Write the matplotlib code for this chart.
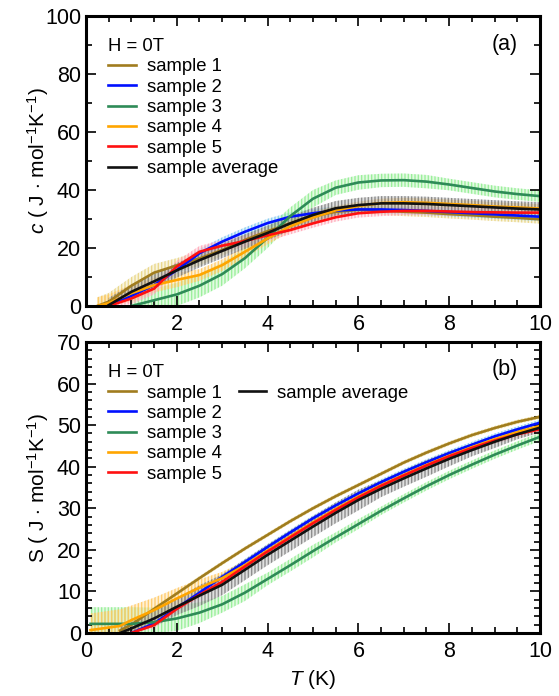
import numpy as np
import matplotlib
import matplotlib.pyplot as plt
from matplotlib.colors import to_rgba
from matplotlib.ticker import MultipleLocator

plt.rcParams['font.family'] = ['Liberation Sans', 'DejaVu Sans']
plt.rcParams['mathtext.fontset'] = 'custom'
plt.rcParams['mathtext.rm'] = 'Liberation Sans'
plt.rcParams['mathtext.it'] = 'Liberation Sans:italic'
plt.rcParams['hatch.linewidth'] = 1.0

nan = np.nan

# ---- panel (a): specific heat c(T) ----
T_a = [0.25, 0.5, 1, 1.5, 2, 2.5, 3, 3.5, 4, 4.5, 5, 5.5, 6, 6.5, 7, 7.5, 8, 8.5, 9, 9.5, 10]
c_s1 = [0, 1.5, 7, 11.5, 14, 16.4, 19.3, 22.8, 25.8, 28.5, 31, 32.5, 33.2, 33, 32.5, 32.2, 31.7, 31.3, 30.8, 30.4, 29.9]
c_s2 = [nan, 0, 3.5, 7.2, 12.4, 18.2, 22.2, 25.6, 28.6, 30.8, 32, 32.9, 33.3, 33.3, 33.1, 32.8, 32.4, 32, 31.6, 31.2, 30.8]
c_s3 = [nan, nan, 0, 2, 4, 7, 11, 16.5, 23.5, 31, 37, 40.8, 42.6, 43.3, 43.4, 42.9, 41.9, 40.7, 39.5, 38.6, 37.9]
c_s4 = [0, 1, 4.4, 7.2, 9, 10.7, 14.1, 18.7, 23.3, 27.5, 30.5, 33, 34.5, 35.5, 35.8, 35.6, 35.2, 34.8, 34.3, 34, 33.6]
c_s5 = [nan, 0, 2.6, 6, 13.6, 18.7, 20.8, 22.4, 24.4, 26.2, 28.5, 30.6, 32, 32.5, 32.8, 32.8, 32.6, 32.4, 32.3, 32.2, 32.2]
c_avg = [nan, 0.3, 4.9, 8.5, 12.3, 15.8, 19, 22.2, 25.2, 28.5, 31.4, 33.7, 34.8, 35.4, 35.4, 35.2, 34.8, 34.4, 34, 33.6, 33.3]

# error estimates (a)
c_err_s1 = [3, 3, 3, 3, 2.5, 2.5, 2, 2, 2, 2, 2, 1.5, 1.5, 1.5, 1.5, 1.5, 1.5, 1.5, 1.5, 1.5, 1.5]
c_err_s2 = [1.5] * 21
c_err_s3 = [4, 4, 4, 4, 4, 4, 4, 3.5, 3.5, 3, 3, 2.5, 2.5, 2.3, 2.3, 2.3, 2, 2, 2, 2, 2]
c_err_s4 = [3, 3, 3, 2.5, 2.5, 2, 2, 2, 2, 2, 2, 1.5, 1.5, 1.5, 1.5, 1.5, 1.5, 1.5, 1.5, 1.5, 1.5]
c_err_s5 = [2, 2, 2, 2, 2, 2, 2, 2, 2, 1.5, 1.5, 1.5, 1.5, 1.5, 1.5, 1.5, 1.5, 1.5, 1.5, 1.5, 1.5]
c_err_avg = [2.5] * 21

# ---- panel (b): entropy S(T) ----
T_b = [0.1, 0.75, 1, 1.5, 2, 2.5, 3, 3.5, 4, 4.5, 5, 5.5, 6, 6.5, 7, 7.5, 8, 8.5, 9, 9.5, 10]
S_s1 = [nan, 0.6, 2, 5.8, 9.5, 13.2, 16.8, 20.3, 23.6, 26.9, 30, 32.9, 35.6, 38.3, 41, 43.4, 45.6, 47.6, 49.3, 50.8, 52]
S_s2 = [nan, nan, 0, 2.3, 6, 9.7, 13.5, 17.1, 20.7, 24.2, 27.6, 30.7, 33.6, 36.3, 38.8, 41.1, 43.3, 45.3, 47.3, 49, 50.6]
S_s3 = [2.2, 2.2, 2.2, 2.6, 3.5, 4.9, 6.9, 9.7, 13, 16.3, 19.7, 23, 26.2, 29.4, 32.4, 35.3, 38, 40.5, 42.9, 45.1, 47.2]
S_s4 = [0.7, 1.7, 3.1, 5.5, 8.3, 10.9, 13.2, 16.3, 19.8, 23.2, 26.6, 29.8, 32.8, 35.5, 38, 40.4, 42.6, 44.7, 46.6, 48.3, 49.8]
S_s5 = [nan, nan, 0, 1.9, 5.8, 9.2, 12.3, 16, 19.6, 23, 26.4, 29.6, 32.6, 35.4, 37.9, 40.3, 42.5, 44.5, 46.3, 47.8, 49]
S_avg = [nan, 0, 1.1, 3.5, 6.3, 9, 11.6, 15.2, 18.8, 22.2, 25.6, 28.9, 32, 34.7, 37.2, 39.6, 41.9, 44, 46, 47.8, 49.4]

S_err_s1 = [0.5] * 21
S_err_s2 = [0.7] * 21
S_err_s3 = [4, 4, 4, 3.5, 3, 2.5, 2, 2, 1.5, 1.5, 1.5, 1.2, 1.2, 1, 1, 1, 1, 1, 1, 1, 1]
S_err_s4 = [4, 4, 3.5, 3, 2.5, 2, 1.5, 1, 1, 0.8, 0.8, 0.7, 0.7, 0.7, 0.7, 0.7, 0.7, 0.7, 0.7, 0.7, 0.7]
S_err_s5 = [0.8] * 21
S_err_avg = [nan, 1.5, 1.5, 2, 2, 2.5, 2.5, 2.5, 2.5, 2.5, 2.5, 2.5, 2.5, 2, 2, 2, 1.8, 1.5, 1.5, 1.2, 1.2]

labels = ['sample 1', 'sample 2', 'sample 3', 'sample 4', 'sample 5', 'sample average']
colors = ['#a07c1e', '#0010ff', '#2e8b57', '#ffa500', '#ff1010', '#111111']
band_colors = ['#e8d480', '#80c8f0', '#90ee90', '#ffc860', '#ffa8b8', '#808080']


def draw_panel(ax, T, ys, errs):
    T = np.array(T)
    lines = []
    for y, e, bc in zip(ys, errs, band_colors):
        y = np.array(y, dtype=float)
        e = np.array(e, dtype=float)
        lo = np.clip(y - e, 0, None)
        hi = y + e
        ax.fill_between(T, lo, hi, facecolor=to_rgba(bc, 0.25),
                        edgecolor=to_rgba(bc, 0.85), hatch='|||||', linewidth=0)
    for y, col, lab in zip(ys, colors, labels):
        ln, = ax.plot(T, y, color=col, lw=1.9, label=lab)
        lines.append(ln)
    return lines


def style_axes(ax, ymax, ymajor, yminor):
    ax.set_xlim(0, 10)
    ax.set_ylim(0, ymax)
    ax.xaxis.set_major_locator(MultipleLocator(2))
    ax.xaxis.set_minor_locator(MultipleLocator(0.5))
    ax.yaxis.set_major_locator(MultipleLocator(ymajor))
    ax.yaxis.set_minor_locator(MultipleLocator(yminor))
    ax.tick_params(which='both', direction='in', top=True, right=True, labelsize=15.5, width=1.2)
    ax.tick_params(which='major', length=7)
    ax.tick_params(which='minor', length=4)
    ax.tick_params(axis='x', pad=6)
    for sp in ax.spines.values():
        sp.set_linewidth(2.2)


fig = plt.figure(figsize=(5.59, 6.96), dpi=100)
ax1 = fig.add_axes([0.1538, 0.5603, 0.8122, 0.4167])
ax2 = fig.add_axes([0.1538, 0.0905, 0.8122, 0.4181])

lines_a = draw_panel(ax1, T_a, [c_s1, c_s2, c_s3, c_s4, c_s5, c_avg],
                     [c_err_s1, c_err_s2, c_err_s3, c_err_s4, c_err_s5, c_err_avg])
style_axes(ax1, 100, 20, 10)
ax1.set_ylabel(r'$c$ ( J $\cdot$ mol$^{\mathregular{-1}}$K$^{\mathregular{-1}}$)', fontsize=15)
ax1.yaxis.set_label_coords(-0.078, 0.5)
ax1.text(0.951, 0.903, '(a)', transform=ax1.transAxes, ha='right', va='center', fontsize=15.5)
leg = ax1.legend(handles=lines_a, title='H = 0T', loc='upper left', frameon=False,
                 fontsize=13.3, title_fontsize=13.3, handlelength=1.5, handletextpad=0.6,
                 labelspacing=0.18, borderaxespad=0.8)
leg._legend_box.align = 'left'

lines_b = draw_panel(ax2, T_b, [S_s1, S_s2, S_s3, S_s4, S_s5, S_avg],
                     [S_err_s1, S_err_s2, S_err_s3, S_err_s4, S_err_s5, S_err_avg])
style_axes(ax2, 70, 10, 2)
ax2.set_ylabel(r'S ( J $\cdot$ mol$^{\mathregular{-1}}$K$^{\mathregular{-1}}$)', fontsize=15)
ax2.yaxis.set_label_coords(-0.078, 0.5)
ax2.set_xlabel(r'$T$ (K)', fontsize=15, labelpad=4)
ax2.text(0.951, 0.904, '(b)', transform=ax2.transAxes, ha='right', va='center', fontsize=15.5)
# two columns: samples 1-5 in the first, average at top of the second
blank = matplotlib.lines.Line2D([], [], color='none')
handles_b = lines_b[:5] + [lines_b[5]] + [blank] * 4
labels_b = labels[:5] + [labels[5]] + [''] * 4
leg2 = ax2.legend(handles=handles_b, labels=labels_b, title='H = 0T', loc='upper left',
                  frameon=False, ncol=2, fontsize=13.3, title_fontsize=13.3, handlelength=1.5,
                  handletextpad=0.6, labelspacing=0.18, columnspacing=0.9, borderaxespad=0.8)
leg2._legend_box.align = 'left'

fig.savefig('out.png', dpi=100)
